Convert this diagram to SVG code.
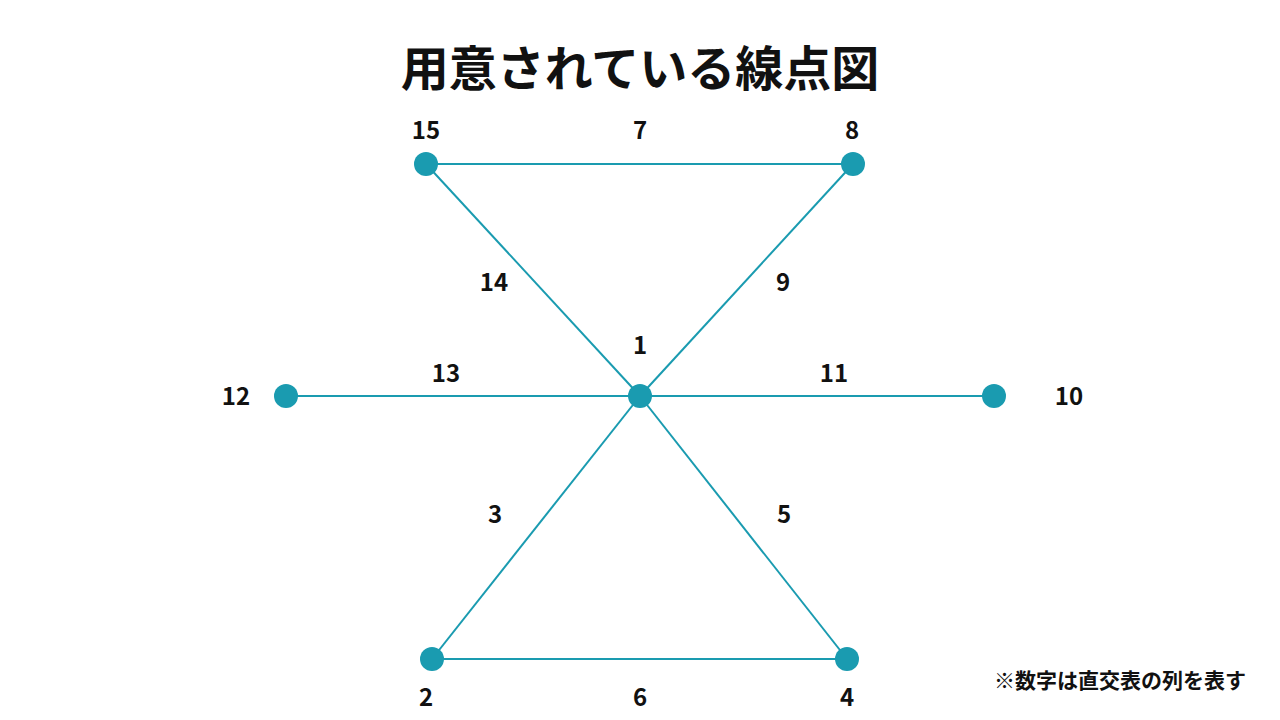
<svg xmlns="http://www.w3.org/2000/svg" width="1280" height="720" viewBox="0 0 1280 720">
<style>
.e{stroke:#1a9bb0;stroke-width:2;fill:none}
.n{fill:#1a9bb0}
.t{font-family:"Noto Sans CJK JP","Noto Sans",sans-serif;font-weight:700;fill:#111;text-anchor:middle}
.l{font-size:24px}
</style>
<rect width="1280" height="720" fill="#fff"/>
<text class="t" x="640" y="86" font-size="48">用意されている線点図</text>
<g id="connectors">
<line class="e" x1="426" y1="164" x2="853" y2="164"/>
<line class="e" x1="426" y1="164" x2="640" y2="396"/>
<line class="e" x1="853" y1="164" x2="640" y2="396"/>
<line class="e" x1="286" y1="396" x2="994" y2="396"/>
<line class="e" x1="640" y1="396" x2="432" y2="659"/>
<line class="e" x1="640" y1="396" x2="847" y2="659"/>
<line class="e" x1="432" y1="659" x2="847" y2="659"/>
</g>
<g id="edge-labels">
<text class="t l" x="640" y="139">7</text>
<text class="t l" x="494" y="291">14</text>
<text class="t l" x="783" y="291">9</text>
<text class="t l" x="446" y="382">13</text>
<text class="t l" x="834" y="382">11</text>
<text class="t l" x="495" y="523">3</text>
<text class="t l" x="784" y="523">5</text>
<text class="t l" x="640" y="706">6</text>
</g>
<g id="node-1"><circle class="n" cx="640" cy="396" r="12"/><text class="t l" x="640" y="354">1</text></g>
<g id="node-15"><circle class="n" cx="426" cy="164" r="12"/><text class="t l" x="426" y="139">15</text></g>
<g id="node-8"><circle class="n" cx="853" cy="164" r="12"/><text class="t l" x="852" y="139">8</text></g>
<g id="node-12"><circle class="n" cx="286" cy="396" r="12"/><text class="t l" x="236" y="405">12</text></g>
<g id="node-10"><circle class="n" cx="994" cy="396" r="12"/><text class="t l" x="1069" y="405">10</text></g>
<g id="node-2"><circle class="n" cx="432" cy="659" r="12"/><text class="t l" x="426" y="706">2</text></g>
<g id="node-4"><circle class="n" cx="847" cy="659" r="12"/><text class="t l" x="847" y="706">4</text></g>
<text class="t" x="1120" y="688" font-size="21">※数字は直交表の列を表す</text>
</svg>
